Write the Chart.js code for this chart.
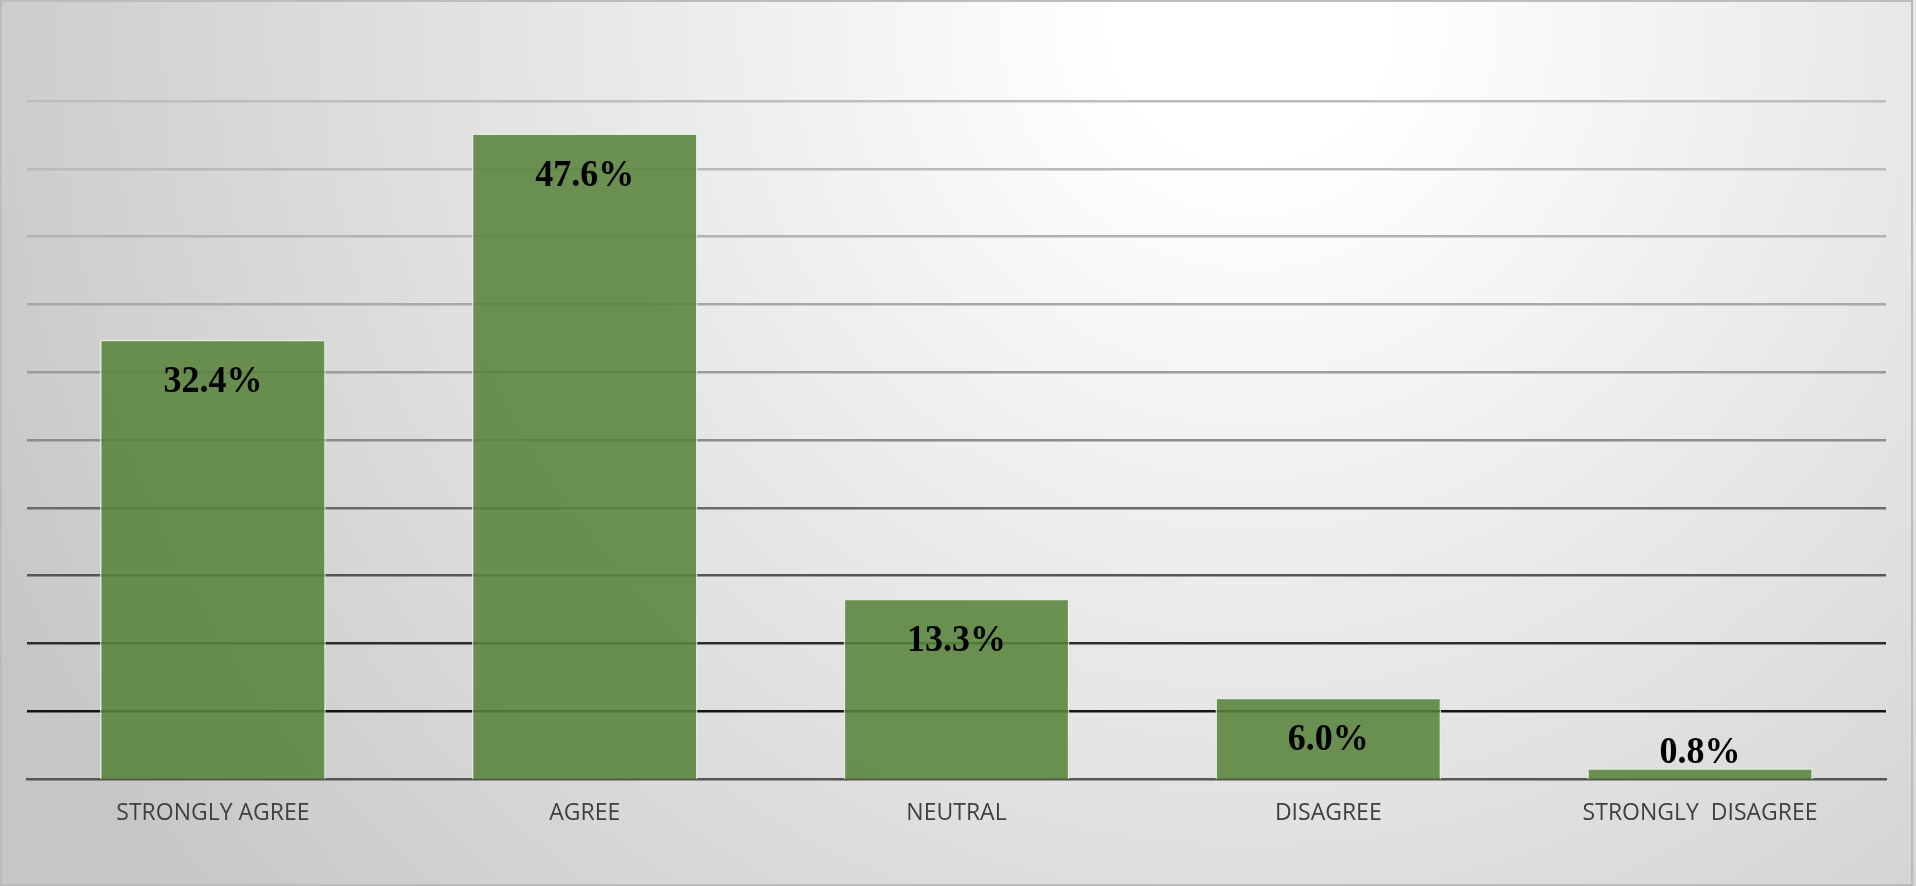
<!DOCTYPE html>
<html>
<head>
<meta charset="utf-8">
<script src="https://cdn.jsdelivr.net/npm/chart.js@4.4.1/dist/chart.umd.min.js"></script>
<style>
  html, body { margin: 0; padding: 0; background: #ffffff; }
  #wrap { position: relative; width: 1916px; height: 886px; }
  canvas { display: block; }
</style>
</head>
<body>
<div id="wrap"><canvas id="chart" width="1916" height="886"></canvas></div>
<script>
// Survey responses (share of respondents, %)
const categories = ['STRONGLY AGREE', 'AGREE', 'NEUTRAL', 'DISAGREE', 'STRONGLY  DISAGREE'];
const shares = [32.4, 47.6, 13.3, 6.0, 0.8];

// Value axis range (hidden labels, gridlines only)
const axisMin = 0;
const axisMax = 50;
const axisStep = 5;

// Gridline shades, bottom (0) to top (50)
const gridShades = ['#555555', '#141414', '#2c2c2c', '#555555', '#6a6a6a', '#8c8c8c',
                    '#9b9b9b', '#a8a8a8', '#b2b2b2', '#bababa', '#bdbdbd'];

// Soft radial backdrop and frame
const backdrop = {
  id: 'backdrop',
  beforeDraw(chart) {
    const { ctx, width, height } = chart;
    ctx.save();
    const g = ctx.createRadialGradient(1250, 20, 0, 1250, 20, 1400);
    g.addColorStop(0, '#ffffff');
    g.addColorStop(0.1, '#ffffff');
    g.addColorStop(1, '#c6c6c6');
    ctx.fillStyle = g;
    ctx.fillRect(0, 0, width, height);
    ctx.strokeStyle = '#bcbcbc';
    ctx.lineWidth = 2;
    ctx.strokeRect(1, 1, width - 5, height - 2);
    ctx.restore();
  }
};

// Percent labels: inside the top of tall bars, above short ones
const valueLabels = {
  id: 'valueLabels',
  afterDatasetsDraw(chart) {
    const { ctx } = chart;
    const meta = chart.getDatasetMeta(0);
    ctx.save();
    ctx.font = 'bold 36px "Liberation Serif", "Times New Roman", serif';
    ctx.fillStyle = '#000000';
    ctx.textAlign = 'center';
    ctx.textBaseline = 'middle';
    meta.data.forEach((bar, i) => {
      const v = chart.data.datasets[0].data[i];
      const h = bar.base - bar.y;
      const y = h > 60 ? bar.y + 42 : bar.y - 15;
      ctx.save();
      ctx.translate(bar.x, y);
      ctx.scale(1, 1.08);
      ctx.fillText(v.toFixed(1) + '%', 0, 0);
      ctx.restore();
    });
    ctx.restore();
  }
};

new Chart(document.getElementById('chart'), {
  type: 'bar',
  data: {
    labels: categories,
    datasets: [{
      data: shares,
      backgroundColor: 'rgba(88,132,59,0.88)',
      borderColor: 'rgba(228,240,222,0.85)',
      borderWidth: 1.5,
      borderSkipped: 'bottom',
      categoryPercentage: 1,
      barPercentage: 0.607
    }]
  },
  options: {
    responsive: false,
    animation: false,
    layout: { padding: { left: 27, right: 30, top: 101, bottom: 0 } },
    plugins: { legend: { display: false }, tooltip: { enabled: false } },
    scales: {
      x: {
        grid: { display: false, drawTicks: false },
        border: { display: true, color: '#555555', width: 2.5 },
        ticks: {
          color: '#404040',
          font: { family: '"Open Sans", "Noto Sans", sans-serif', size: 23 },
          padding: 21,
          maxRotation: 0,
          autoSkip: false
        },
        afterFit(scale) { scale.height = 107; }
      },
      y: {
        min: axisMin,
        max: axisMax,
        ticks: { display: false, stepSize: axisStep },
        border: { display: false },
        grid: {
          drawTicks: false,
          lineWidth: (c) => (c.index === 0 ? 0 : 2.5),
          color: (c) => gridShades[c.index] || '#bdbdbd'
        },
        afterFit(scale) { scale.width = 0; }
      }
    }
  },
  plugins: [backdrop, valueLabels]
});
</script>
</body>
</html>
